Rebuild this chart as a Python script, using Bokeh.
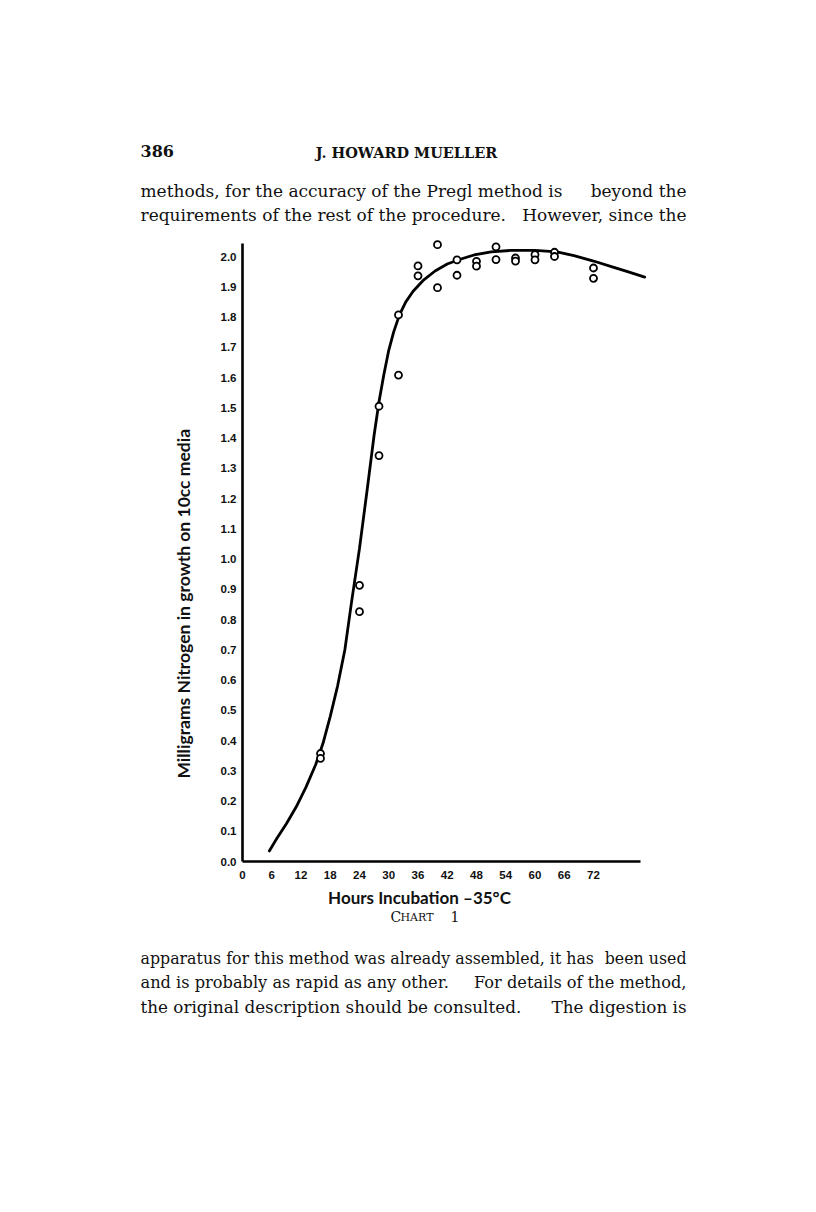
from bokeh.plotting import figure
from bokeh.layouts import column, row
from bokeh.models import Range1d, FixedTicker, PrintfTickFormatter
from bokeh.core.properties import value
from bokeh.embed import file_html
from bokeh.resources import INLINE

# ---- data ----
hours = [16, 16, 24, 24, 28, 28, 32, 32, 36, 36, 40, 40, 44, 44, 48, 48,
         52, 52, 56, 56, 60, 60, 64, 64, 72, 72]
nitrogen = [0.357, 0.341, 0.913, 0.826, 1.505, 1.342, 1.807, 1.608, 1.969, 1.936,
            2.039, 1.897, 1.989, 1.938, 1.984, 1.968, 2.032, 1.990, 1.995, 1.985,
            2.006, 1.989, 2.014, 2.000, 1.962, 1.928]

curve_hours = [5.5, 7, 9, 11, 13, 15, 16.5, 18, 19.5, 21, 22.3, 24, 25.5, 27, 28,
               29, 30, 31, 32.2, 33.5, 35, 37, 39.5, 42, 44.5, 47.5, 51, 55, 60,
               64.5, 68, 72, 76, 79, 82.5]
curve_nitrogen = [0.035, 0.075, 0.125, 0.18, 0.245, 0.32, 0.39, 0.48, 0.58, 0.70,
                  0.85, 1.035, 1.22, 1.41, 1.52, 1.61, 1.69, 1.75, 1.807, 1.85,
                  1.885, 1.92, 1.952, 1.975, 1.99, 2.005, 2.015, 2.02, 2.02,
                  2.015, 2.003, 1.985, 1.965, 1.95, 1.932]

x_ticks = [0, 6, 12, 18, 24, 30, 36, 42, 48, 54, 60, 66, 72]
y_ticks = [round(i * 0.1, 1) for i in range(21)]

x_title = "Hours Incubation \u201335\u00b0C"
y_title = "Milligrams Nitrogen in growth on 10cc media"
caption_parts = ["C", "HART", "1"]
page_no = "386"
running_head = "J. HOWARD MUELLER"
top_lines = [("methods, for the accuracy of the Pregl method is", "beyond the"),
             ("requirements of the rest of the procedure.", "However, since the")]
bottom_lines = [("apparatus for this method was already assembled, it has", "been used"),
                ("and is probably as rapid as any other.", "For details of the method,"),
                ("the original description should be consulted.", "The digestion is")]

# ---- page geometry (page pixels) ----
W, H = 800, 1196
TOP_H = 226
CHART_TOP = TOP_H
LEFT_W = 212
CHART_W = W - LEFT_W
FRAME_L, FRAME_R, FRAME_T, FRAME_B = 30, 148, 6, 24
FRAME_W, FRAME_H = 410, 629
CHART_H = FRAME_T + FRAME_H + FRAME_B
BOTTOM_TOP = CHART_TOP + CHART_H
BOTTOM_H = H - BOTTOM_TOP
PX_PER_H = 4.875
PX_PER_N = 302.5

INK = "#111111"


def text_fig(left, top, width, height):
    f = figure(width=width, height=height, output_backend="svg",
               toolbar_location=None, min_border=0,
               x_range=Range1d(left, left + width),
               y_range=Range1d(-(top + height), -top),
               x_axis_location=None, y_axis_location=None)
    f.outline_line_color = None
    f.grid.visible = False
    return f


def put(f, text, px, py, size, font="DejaVu Serif", style="normal",
        align="left", angle=0.0):
    f.text(x=[px], y=[-py], text=[text], text_font=value(font),
           text_font_size=value(size), text_font_style=style,
           text_align=align, text_baseline="middle", angle=angle,
           text_color=INK)


# top text block
top = text_fig(0, 0, W, TOP_H)
put(top, page_no, 140, 150, "16px", style="bold")
put(top, running_head, 406, 152, "14.5px", style="bold", align="center")
for i, (l, r) in enumerate(top_lines):
    put(top, l, 140, 190 + 24 * i, "17px")
    put(top, r, 686, 190 + 24 * i, "17px", align="right")

# left strip with vertical title
left = text_fig(0, CHART_TOP, LEFT_W, CHART_H)
put(left, y_title, 183, 615, "17.5px", font="Lato", style="bold", align="center",
    angle=1.5708)

# chart
p = figure(width=CHART_W, height=CHART_H, output_backend="svg",
           toolbar_location=None,
           x_range=Range1d(0, FRAME_W / PX_PER_H),
           y_range=Range1d(0, FRAME_H / PX_PER_N),
           min_border_left=FRAME_L, min_border_right=FRAME_R,
           min_border_top=FRAME_T, min_border_bottom=FRAME_B)
p.outline_line_color = None
p.xgrid.grid_line_color = None
p.ygrid.grid_line_color = None

for ax in (p.xaxis, p.yaxis):
    ax.axis_line_width = 2.6
    ax.axis_line_color = "black"
    ax.major_tick_line_color = None
    ax.minor_tick_line_color = None
    ax.major_label_text_font = "Liberation Sans"
    ax.major_label_text_font_style = "bold"
    ax.major_label_text_font_size = "11.5px"
    ax.major_label_text_color = INK

p.xaxis.ticker = FixedTicker(ticks=x_ticks)
p.xaxis.bounds = (0, 81.6)
p.xaxis.major_label_standoff = 3
p.yaxis.ticker = FixedTicker(ticks=y_ticks)
p.yaxis.formatter = PrintfTickFormatter(format="%.1f")
p.yaxis.bounds = (0, 2.043)
p.yaxis.major_label_standoff = 0

p.line(curve_hours, curve_nitrogen, line_width=2.8, color="black", line_cap="round")
p.scatter(hours, nitrogen, marker="circle", size=7, fill_color="white",
          line_color="black", line_width=1.8)

# bottom text block
bot = text_fig(0, BOTTOM_TOP, W, BOTTOM_H)
put(bot, x_title, 419, 897, "17px", font="Lato", style="bold", align="center")
put(bot, caption_parts[0], 390, 916, "14px")
put(bot, caption_parts[1], 400, 917, "11px")
put(bot, caption_parts[2], 450, 916, "14px")
bottom_sizes = ["15.8px", "16.2px", "16.8px"]
for i, (l, r) in enumerate(bottom_lines):
    put(bot, l, 140, 958 + 24 * i, bottom_sizes[i])
    put(bot, r, 686, 958 + 24 * i, bottom_sizes[i], align="right")

page = column(top, row(left, p), bot)
open("out.html", "w").write(file_html(page, INLINE))
